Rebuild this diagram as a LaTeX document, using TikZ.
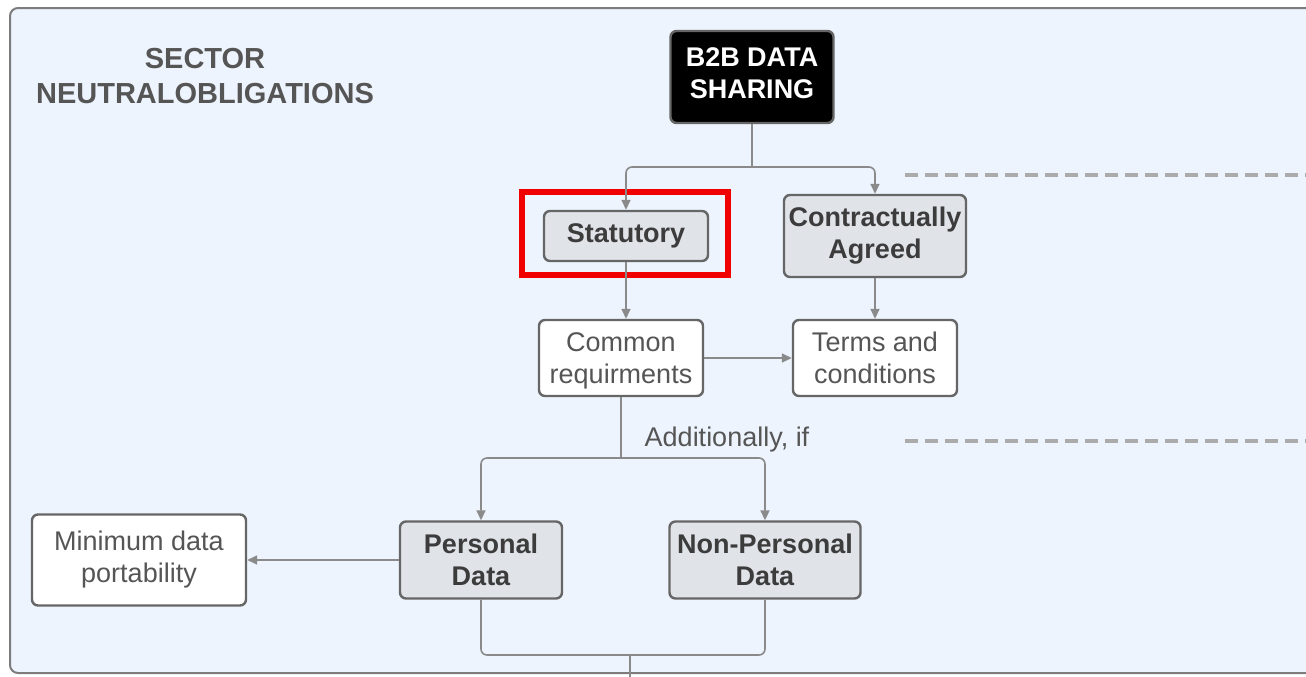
\documentclass[tikz,border=0pt]{standalone}
\usepackage{fontspec}
\setmainfont{Liberation Sans}
\usetikzlibrary{arrows.meta}
\definecolor{panel}{HTML}{EDF4FE}
\definecolor{panelline}{HTML}{7C7C7C}
\definecolor{boxline}{HTML}{666666}
\definecolor{boxfill}{HTML}{E0E3E8}
\definecolor{darktxt}{HTML}{3C3C3C}
\definecolor{lighttxt}{HTML}{555555}
\definecolor{lineg}{HTML}{8A8A8A}
\definecolor{dashg}{HTML}{ABABAB}
\definecolor{highlightred}{HTML}{F00000}

\tikzset{
  box/.style={draw=boxline, line width=1.2pt, rounded corners=3pt, align=center, inner sep=1pt},
  greybox/.style={box, fill=boxfill, text=darktxt, font=\fontsize{13.5}{16}\selectfont\bfseries},
  whitebox/.style={box, fill=white, text=lighttxt, font=\fontsize{13.5}{16}\selectfont},
  conn/.style={draw=lineg, line width=0.8pt, rounded corners=3pt},
  arr/.style={conn, -{Triangle[length=5pt,width=4.5pt]}},
  guide/.style={draw=dashg, line width=2pt, dash pattern=on 6.5pt off 3.5pt}
}

\begin{document}
\begin{tikzpicture}[x=0.5pt,y=-0.5pt]
    \useasboundingbox (0,0) rectangle (1306,676);
    \clip (0,0) rectangle (1306,676);
    % panel
        \draw[fill=panel, draw=panelline, line width=1pt, rounded corners=4pt] (10,8) rectangle (1330,673);
        \node[text=lighttxt, font=\fontsize{14.5}{17.5}\selectfont\bfseries, align=center] (title) at (205,76) {SECTOR\\NEUTRALOBLIGATIONS};
    % boxes
        \node[box, fill=black, text=white, font=\fontsize{13.5}{16}\selectfont\bfseries, minimum width=81.5pt, minimum height=46pt] (b2b) at (752,77) {B2B DATA\\SHARING\rule[-4pt]{0pt}{0pt}};
        \node[greybox, minimum width=82pt, minimum height=25pt] (stat) at (626,236) {Statutory};
        \node[greybox, minimum width=91pt, minimum height=41pt] (contr) at (875,236) {Contractually\\Agreed};
        \node[whitebox, minimum width=82pt, minimum height=38pt] (common) at (621,358) {Common\\\raisebox{0pt}[\height][0pt]{requirments}};
        \node[whitebox, minimum width=82pt, minimum height=38pt] (terms) at (875,358) {Terms and\\conditions};
        \node[greybox, minimum width=81pt, minimum height=38.5pt] (pers) at (481,560) {Personal\\Data};
        \node[greybox, minimum width=95.5pt, minimum height=38.5pt] (nonpers) at (765,560) {Non-Personal\\Data};
        \node[whitebox, minimum width=107pt, minimum height=45.5pt] (minport) at (139,560) {Minimum data\\portability};
        \node[text=lighttxt, font=\fontsize{13.5}{16}\selectfont] (addif) at (727,440) {Additionally, if};
    % highlight
        \draw[highlightred, line width=3pt] (522,192) rectangle (728,275);
    % connectors
        \coordinate (split1) at (752,167);
        \coordinate (split2) at (621,458);
        \coordinate (join) at (630,655);
        \coordinate (joinend) at (630,690);
        \draw[conn] (b2b.south) -- (split1);
        \draw[arr] (split1) -| (stat.north);
        \draw[arr] (split1) -| (contr.north);
        \draw[arr] (stat.south) -- (stat.south |- common.north);
        \draw[arr] (contr.south) -- (terms.north);
        \draw[arr] (common.east) -- (terms.west);
        \draw[conn] (common.south) -- (split2);
        \draw[arr] (split2) -| (pers.north);
        \draw[arr] (split2) -| (nonpers.north);
        \draw[arr] (pers.west) -- (minport.east);
        \draw[conn] (pers.south) |- (join);
        \draw[conn] (nonpers.south) |- (join);
        \draw[conn] (join) -- (joinend);
    % guides
        \draw[guide] (905,175) -- (1310,175);
        \draw[guide] (905,441) -- (1310,441);
\end{tikzpicture}
\end{document}
